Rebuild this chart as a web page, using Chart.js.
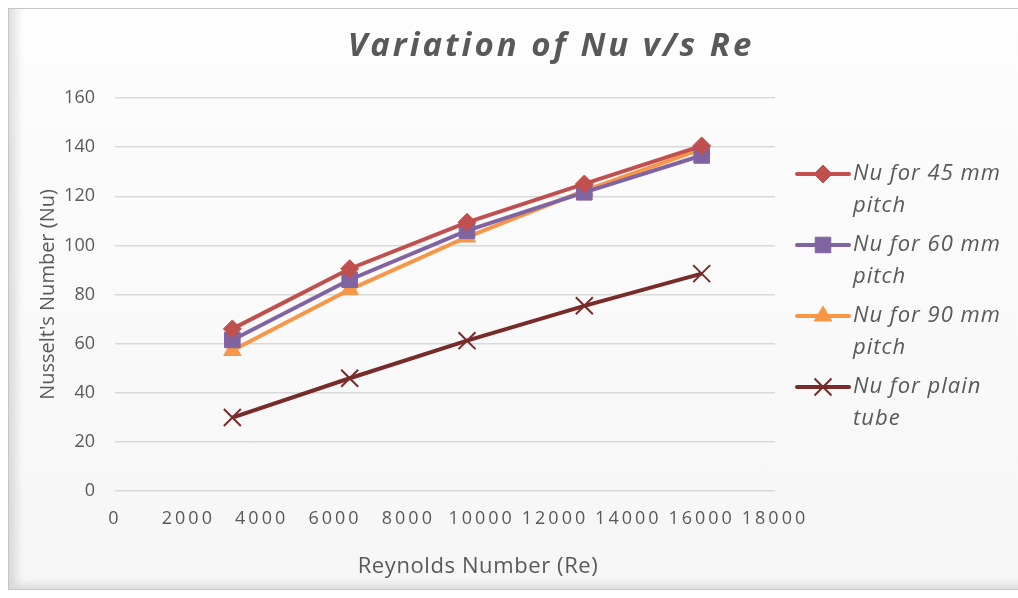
<!DOCTYPE html>
<html lang="en">
<head>
  <meta charset="UTF-8">
  <title>Variation of Nu v/s Re</title>
  <script src="https://cdn.jsdelivr.net/npm/chart.js"></script>
  <style>
    body { margin: 0; background: #fff; width: 1018px; height: 598px; overflow: hidden; position: relative; font-family: 'Open Sans', sans-serif; }
    .frame {
      position: absolute; left: 8px; top: 8px; width: 1030px; height: 580px;
      border: 1px solid #c6c6c6; border-right: none;
      background: linear-gradient(#fdfdfd, #f6f6f6);
      box-shadow: inset 13px -10px 10px -6px rgba(0,0,0,0.12);
    }
    #wrap { position: absolute; left: 0; top: 0; width: 1018px; height: 598px; }
  </style>
</head>
<body>
  <div class="frame"></div>
  <div id="wrap"><canvas id="nuChart" width="1018" height="598"></canvas></div>

  <script>
    // values
    const reynolds = [3200, 6400, 9600, 12800, 16000];
    const nu45 = [66.0, 90.5, 109.4, 125.0, 140.5];
    const nu60 = [61.5, 86.0, 106.0, 121.6, 136.6];
    const nu90 = [57.2, 82.0, 103.4, 122.3, 139.2];
    const nuPlain = [29.9, 45.9, 61.2, 75.4, 88.5];

    const seriesNames = ['Nu for 45 mm pitch', 'Nu for 60 mm pitch', 'Nu for 90 mm pitch', 'Nu for plain tube'];
    const xTicks = [0, 2000, 4000, 6000, 8000, 10000, 12000, 14000, 16000, 18000];
    const yTicks = [0, 20, 40, 60, 80, 100, 120, 140, 160];

    const textColor = '#595959';
    const fontFam = "'Open Sans', sans-serif";

    // x tick labels are spaced out in the original
    class SpacedLinearScale extends Chart.LinearScale {
      drawLabels(area) {
        this.ctx.save();
        this.ctx.letterSpacing = '3px';
        super.drawLabels(area);
        this.ctx.restore();
      }
    }
    SpacedLinearScale.id = 'spacedLinear';
    SpacedLinearScale.defaults = Chart.LinearScale.defaults;
    Chart.register(SpacedLinearScale);

    function points(ys) {
      return reynolds.map((x, i) => ({ x: x, y: ys[i] }));
    }

    function series(name, ys, color, style, radius, bw) {
      return {
        label: name, data: points(ys),
        borderColor: color, backgroundColor: color,
        borderWidth: 4, tension: 0,
        pointStyle: style, pointRadius: radius, pointHoverRadius: radius,
        pointBorderWidth: bw, pointBackgroundColor: color, pointBorderColor: color
      };
    }

    function wrapWords(ctx, text, maxW) {
      const words = text.split(' ');
      const lines = [];
      let cur = '';
      words.forEach(w => {
        const t = cur ? cur + ' ' + w : w;
        if (cur && ctx.measureText(t).width > maxW) { lines.push(cur); cur = w; }
        else cur = t;
      });
      if (cur) lines.push(cur);
      return lines;
    }

    const decorations = {
      id: 'decorations',
      afterDraw(chart) {
        const ctx = chart.ctx;
        ctx.save();

        // title
        ctx.fillStyle = textColor;
        ctx.textAlign = 'center';
        ctx.textBaseline = 'middle';
        ctx.font = 'italic bold 33px ' + fontFam;
        ctx.letterSpacing = '3px';
        ctx.fillText('Variation of Nu v/s Re', 551, 47);

        // x axis title
        ctx.font = '22px ' + fontFam;
        ctx.letterSpacing = '0.6px';
        ctx.fillText('Reynolds Number (Re)', 478, 567);

        // legend on the right
        ctx.textAlign = 'left';
        ctx.font = 'italic 22px ' + fontFam;
        ctx.letterSpacing = '1px';
        chart.data.datasets.forEach((ds, i) => {
          const y = 174 + i * 71;
          ctx.strokeStyle = ds.borderColor;
          ctx.lineWidth = 4;
          ctx.lineCap = 'round';
          ctx.beginPath();
          ctx.moveTo(797, y);
          ctx.lineTo(849, y);
          ctx.stroke();
          ctx.fillStyle = ds.backgroundColor;
          ctx.lineWidth = ds.pointBorderWidth;
          ctx.lineCap = 'butt';
          Chart.helpers.drawPoint(ctx, {
            pointStyle: ds.pointStyle, rotation: 0,
            radius: ds.pointRadius, borderWidth: ds.pointBorderWidth
          }, 823, y);
          ctx.fillStyle = textColor;
          wrapWords(ctx, ds.label, 160).forEach((ln, k) => {
            ctx.fillText(ln, 853, y + k * 32);
          });
        });
        ctx.restore();
      }
    };

    new Chart(document.getElementById('nuChart'), {
      type: 'line',
      data: {
        datasets: [
          series(seriesNames[0], nu45, '#C0504D', 'rectRot', 9, 1),
          series(seriesNames[1], nu60, '#8064A2', 'rect', 11, 1),
          series(seriesNames[2], nu90, '#F79646', 'triangle', 10, 1),
          series(seriesNames[3], nuPlain, '#772C2A', 'crossRot', 12, 2)
        ]
      },
      options: {
        responsive: false,
        animation: false,
        layout: { padding: { left: 20, top: 98, right: 243, bottom: 10 } },
        plugins: {
          legend: { display: false },
          title: { display: false },
          tooltip: { enabled: false }
        },
        scales: {
          x: {
            type: 'spacedLinear',
            min: 0, max: 18000,
            afterBuildTicks: s => { s.ticks = xTicks.map(v => ({ value: v })); },
            afterFit: s => { s.height = 97; },
            grid: { display: false, drawTicks: false },
            border: { display: false },
            ticks: {
              autoSkip: false, maxRotation: 0, padding: 17,
              color: textColor, font: { family: fontFam, size: 18 },
              callback: v => String(v)
            }
          },
          y: {
            min: 0, max: 160,
            afterBuildTicks: s => { s.ticks = yTicks.map(v => ({ value: v })); },
            afterFit: s => { s.width = 95; },
            grid: { color: '#d9d9d9', lineWidth: 1.5, drawTicks: false },
            border: { display: false },
            ticks: {
              padding: 20, color: textColor,
              font: { family: fontFam, size: 18 },
              callback: v => String(v)
            },
            title: {
              display: true, text: "Nusselt's Number (Nu)", color: textColor,
              font: { family: fontFam, size: 20 },
              padding: { top: 16, bottom: 0 }
            }
          }
        }
      },
      plugins: [decorations]
    });
  </script>
</body>
</html>
